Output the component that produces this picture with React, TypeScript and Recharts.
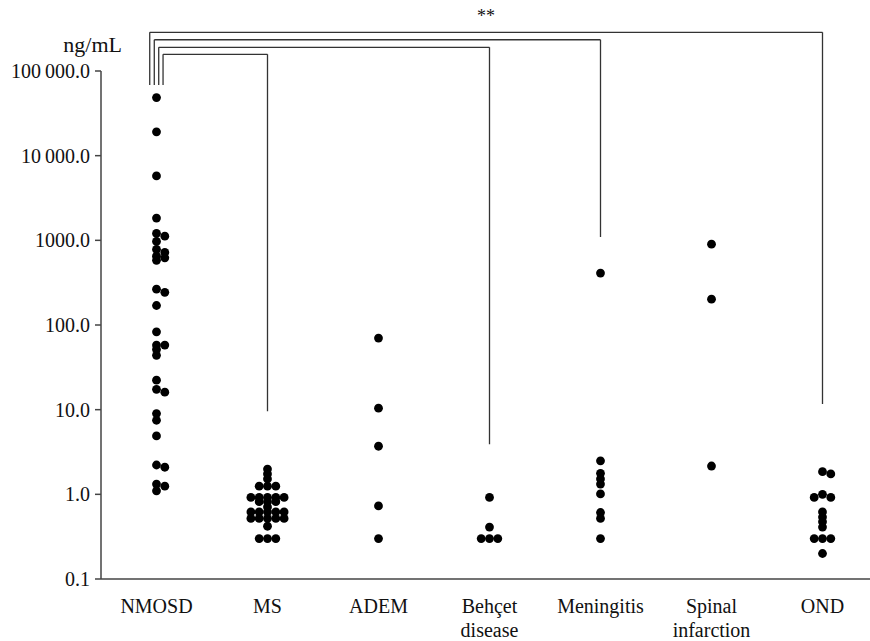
import React from 'react';
import { ScatterChart, Scatter, XAxis, YAxis, ReferenceLine } from 'recharts';

// ---- data ----
const categories = ['NMOSD', 'MS', 'ADEM', 'Behçet\ndisease', 'Meningitis', 'Spinal\ninfarction', 'OND'];

const nmosd = [48600, 19100, 5770, 1830, 1205, 1120, 970, 780, 720, 650, 621, 580, 265, 243, 170, 83, 58, 58, 51.5, 43.8, 22.3, 17.4, 16.1, 9.0, 7.5, 4.9, 2.22, 2.09, 1.32, 1.25, 1.1];
const ms = [1.99, 1.74, 1.52, 1.25, 1.25, 1.25, 0.92, 0.92, 0.92, 0.92, 0.92, 0.82, 0.82, 0.82, 0.71, 0.62, 0.62, 0.62, 0.62, 0.62, 0.52, 0.52, 0.52, 0.52, 0.52, 0.42, 0.3, 0.3, 0.3];
const adem = [70, 10.4, 3.7, 0.73, 0.3];
const behcet = [0.92, 0.41, 0.3, 0.3, 0.3];
const meningitis = [410, 2.49, 1.77, 1.52, 1.32, 1.01, 0.61, 0.52, 0.3];
const spinal = [900, 202, 2.16];
const ond = [1.85, 1.74, 1.0, 0.92, 0.92, 0.62, 0.54, 0.475, 0.41, 0.3, 0.3, 0.3, 0.2];

const groups = [nmosd, ms, adem, behcet, meningitis, spinal, ond];

const yTicks = [0.1, 1, 10, 100, 1000, 10000, 100000];
const yTickLabels = ['0.1', '1.0', '10.0', '100.0', '1000.0', '10\u2009000.0', '100\u2009000.0'];
const xTicks = [0, 1, 2, 3, 4, 5, 6];

// significance brackets
const bracketLeftOffsets = [-0.061, -0.02, 0.02, 0.059];
const bracketTops = [286000, 234000, 190500, 157500];
const bracketTargets = [6, 4, 3, 1];
const bracketEnds = [11.7, 1095, 3.9, 9.6];
const bracketStart = 68200;
const sigLabel = '**';

// ---- layout ----
const W = 880;
const H = 641;
const margin = { top: 71, right: 2, bottom: 12, left: 0 };
const Y_AXIS_W = 101;
const X_AXIS_H = 50;
const plotH = H - margin.top - margin.bottom - X_AXIS_H;
const pxPerDecade = plotH / 6;
const FONT = "'Liberation Serif', 'DejaVu Serif', serif";
const textStyle = { fontFamily: FONT };

// simple beeswarm layout computed from the values
function swarm(values: number[], idx: number) {
  const sorted = [...values].sort((a, b) => b - a);
  const placed: { py: number; dx: number }[] = [];
  const step = 8.3;
  return sorted.map((v) => {
    const py = -Math.log10(v) * pxPerDecade;
    let dx = 0;
    for (const k of [0, 1, -1, 2, -2, 3, -3, 4, -4]) {
      const cand = k * step;
      const hit = placed.some((p) => Math.abs(p.py - py) < 3.5 && Math.abs(p.dx - cand) < 7);
      if (!hit) {
        dx = cand;
        break;
      }
    }
    placed.push({ py, dx });
    return { x: idx, y: v, dx };
  });
}

const seriesData = groups.map((g, i) => swarm(g, i));

const Dot = (props: any) => {
  const { cx, cy, payload } = props;
  if (cx == null || cy == null) return null;
  return <circle cx={cx + (payload?.dx ?? 0)} cy={cy} r={4.4} fill="#000" />;
};

const XTick = (props: any) => {
  const { x, y, payload } = props;
  const lines = categories[payload.value].split('\n');
  return (
    <text x={x} y={y} textAnchor="middle" style={textStyle} fontSize={20} fill="#111">
      {lines.map((l, i) => (
        <tspan key={i} x={x} dy={i === 0 ? 34 : 24}>
          {l}
        </tspan>
      ))}
    </text>
  );
};

const YTick = (props: any) => {
  const { x, y, payload } = props;
  const i = yTicks.indexOf(payload.value);
  return (
    <text x={x} y={y} dy={7} textAnchor="end" style={textStyle} fontSize={20} fill="#111">
      {i >= 0 ? yTickLabels[i] : ''}
    </text>
  );
};

const UnitLabel = (props: any) => {
  const vb = props.viewBox || { x: 0, y: margin.top, width: Y_AXIS_W };
  return (
    <text x={vb.x + vb.width + 21} y={vb.y - 19} textAnchor="end" style={textStyle} fontSize={22} fill="#111">
      ng/mL
    </text>
  );
};

const SigLabel = (props: any) => {
  const vb = props.viewBox || { x: 0, y: 0, width: 0 };
  return (
    <text x={vb.x + vb.width / 2} y={vb.y - 10} textAnchor="middle" style={textStyle} fontSize={18} fill="#111">
      {sigLabel}
    </text>
  );
};

const lineStyle = { stroke: '#333', strokeWidth: 1.3 };

export default function App() {
  return (
    <div style={{ position: 'fixed', left: 0, top: 0, width: 870, height: 641, overflow: 'hidden', background: '#fff' }}>
      <ScatterChart width={W} height={H} margin={margin}>
        <XAxis
          type="number"
          dataKey="x"
          domain={[-0.5, 6.5]}
          ticks={xTicks}
          interval={0}
          height={X_AXIS_H}
          tickLine={false}
          tickSize={0}
          tickMargin={0}
          tick={<XTick />}
          axisLine={{ stroke: '#444', strokeWidth: 1.5 }}
          allowDataOverflow
        />
        <YAxis
          type="number"
          dataKey="y"
          scale="log"
          domain={[0.1, 100000]}
          ticks={yTicks}
          interval={0}
          width={Y_AXIS_W}
          tickSize={6}
          tickMargin={5}
          tick={<YTick />}
          axisLine={{ stroke: '#444', strokeWidth: 1.5 }}
          tickLine={{ stroke: '#444', strokeWidth: 1.5 }}
          allowDataOverflow
          label={{ content: <UnitLabel /> }}
        />
        {bracketTops.map((top, i) => (
          <ReferenceLine
            key={'v' + i}
            segment={[
              { x: bracketLeftOffsets[i], y: bracketStart },
              { x: bracketLeftOffsets[i], y: top },
            ]}
            {...lineStyle}
            ifOverflow="visible"
          />
        ))}
        {bracketTops.map((top, i) => (
          <ReferenceLine
            key={'h' + i}
            segment={[
              { x: bracketLeftOffsets[i], y: top },
              { x: bracketTargets[i], y: top },
            ]}
            {...lineStyle}
            ifOverflow="visible"
            label={i === 0 ? { content: <SigLabel /> } : undefined}
          />
        ))}
        {bracketTops.map((top, i) => (
          <ReferenceLine
            key={'r' + i}
            segment={[
              { x: bracketTargets[i], y: top },
              { x: bracketTargets[i], y: bracketEnds[i] },
            ]}
            {...lineStyle}
            ifOverflow="visible"
          />
        ))}
        {seriesData.map((d, i) => (
          <Scatter key={i} data={d} shape={<Dot />} isAnimationActive={false} />
        ))}
      </ScatterChart>
    </div>
  );
}
